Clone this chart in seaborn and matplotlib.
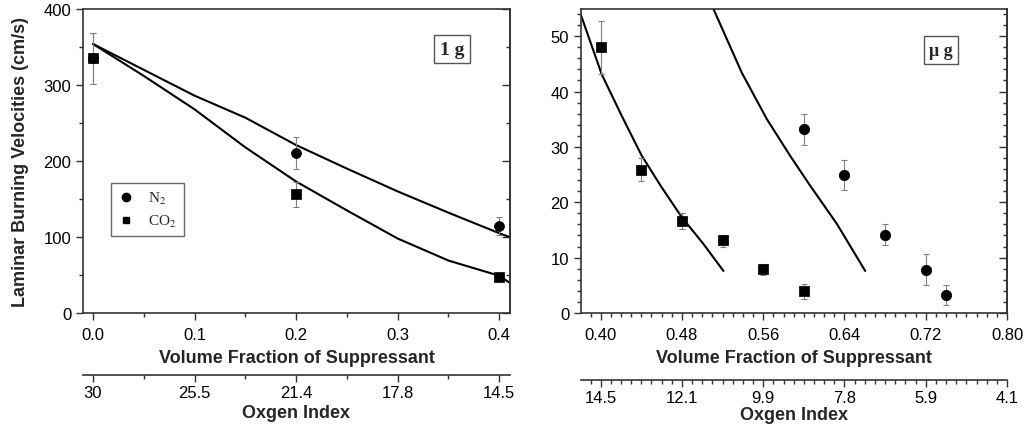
import numpy as np
import pandas as pd
import matplotlib
matplotlib.use("Agg")
import matplotlib.pyplot as plt
from matplotlib.ticker import MultipleLocator
from matplotlib.lines import Line2D
import seaborn as sns

# ---- 1 g data ----
g1_x = [0.0, 0.2, 0.4]
g1_n2 = [335, 210, 115]
g1_n2_lo = [301, 189, 103]
g1_n2_hi = [368, 231, 126]
g1_co2 = [335, 157, 47]
g1_co2_lo = [301, 140, 44]
g1_co2_hi = [368, 173, 51]

g1_calc_x = [0.0, 0.05, 0.1, 0.15, 0.2, 0.25, 0.3, 0.35, 0.4, 0.41]
g1_calc_n2 = [354, 320, 286, 257, 221, 190, 160, 132, 105, 100]
g1_calc_co2 = [354, 312, 268, 218, 173, 135, 98, 69, 49, 40]

# ---- micro g data ----
ug_co2_x = [0.40, 0.44, 0.48, 0.52, 0.56, 0.60]
ug_co2 = [48.0, 25.9, 16.6, 13.1, 7.9, 3.9]
ug_co2_lo = [43.1, 23.8, 15.2, 11.9, 6.9, 2.5]
ug_co2_hi = [52.7, 28.0, 18.0, 14.0, 8.9, 5.2]
ug_n2_x = [0.60, 0.64, 0.68, 0.72, 0.74]
ug_n2 = [33.2, 25.0, 14.1, 7.8, 3.2]
ug_n2_lo = [30.4, 22.3, 12.2, 5.0, 1.4]
ug_n2_hi = [35.9, 27.6, 16.0, 10.6, 5.1]

ug_calc_co2_x = [0.3796, 0.401, 0.4207, 0.4404, 0.460, 0.4798, 0.501, 0.5208]
ug_calc_co2 = [54.3, 43.1, 35.6, 28.4, 22.7, 17.3, 12.5, 7.6]
ug_calc_n2_x = [0.511, 0.5389, 0.5636, 0.5865, 0.6062, 0.6325, 0.6604]
ug_calc_n2 = [54.9, 43.4, 35.0, 28.4, 23.0, 16.1, 7.6]

# secondary axis (oxygen index)
g1_oi_ticks = [0.0, 0.1, 0.2, 0.3, 0.4]
g1_oi_labels = ['30', '25.5', '21.4', '17.8', '14.5']
ug_oi_ticks = [0.40, 0.48, 0.56, 0.64, 0.72, 0.80]
ug_oi_labels = ['14.5', '12.1', '9.9', '7.8', '5.9', '4.1']

sns.set_theme(style="ticks")
plt.rcParams['font.family'] = ['Liberation Sans', 'DejaVu Sans']
plt.rcParams['mathtext.fontset'] = 'stix'
plt.rcParams['axes.edgecolor'] = '#333333'
plt.rcParams['axes.linewidth'] = 1.2
plt.rcParams['xtick.color'] = '#333333'
plt.rcParams['ytick.color'] = '#333333'
plt.rcParams['xtick.labelcolor'] = 'black'
plt.rcParams['ytick.labelcolor'] = 'black'

fig = plt.figure(figsize=(10.23, 4.27), dpi=100)
ax1 = fig.add_axes([83 / 1023, 113 / 427, 427 / 1023, 304 / 427])
ax2 = fig.add_axes([581 / 1023, 113 / 427, 426 / 1023, 304 / 427])

ident = (lambda v: v, lambda v: v)
tick_fs = 12
lab_fs = 13
ecol = '#808080'


def style_axis(ax, xmaj, xmin, ymaj, ymin):
    ax.xaxis.set_major_locator(MultipleLocator(xmaj))
    ax.xaxis.set_minor_locator(MultipleLocator(xmin))
    ax.yaxis.set_major_locator(MultipleLocator(ymaj))
    ax.yaxis.set_minor_locator(MultipleLocator(ymin))
    ax.tick_params(which='major', direction='out', length=5, width=1, labelsize=tick_fs)
    ax.tick_params(which='minor', direction='out', length=3, width=1)
    ax.tick_params(axis='x', pad=5)
    for sp in ax.spines.values():
        sp.set_visible(True)
    # inward ticks on the right spine
    sy = ax.secondary_yaxis('right', functions=ident)
    sy.yaxis.set_major_locator(MultipleLocator(ymaj))
    sy.yaxis.set_minor_locator(MultipleLocator(ymin))
    sy.tick_params(which='major', direction='in', length=6, width=1, labelright=False)
    sy.tick_params(which='minor', direction='in', length=3, width=1, labelright=False)


# ---------- left panel (1 g) ----------
ax = ax1
sns.lineplot(x=g1_calc_x, y=g1_calc_n2, sort=False, color='black', lw=1.5, ax=ax)
sns.lineplot(x=g1_calc_x, y=g1_calc_co2, sort=False, color='black', lw=1.5, ax=ax)
ax.errorbar(g1_x, g1_n2, yerr=[np.subtract(g1_n2, g1_n2_lo), np.subtract(g1_n2_hi, g1_n2)],
            fmt='none', ecolor=ecol, elinewidth=0.8, capsize=2, capthick=0.8)
ax.errorbar(g1_x, g1_co2, yerr=[np.subtract(g1_co2, g1_co2_lo), np.subtract(g1_co2_hi, g1_co2)],
            fmt='none', ecolor=ecol, elinewidth=0.8, capsize=2, capthick=0.8)
sns.scatterplot(x=g1_x, y=g1_n2, marker='o', color='black', s=50, edgecolor='black', ax=ax, zorder=5)
sns.scatterplot(x=g1_x, y=g1_co2, marker='s', color='black', s=42, edgecolor='black', ax=ax, zorder=5)
ax.set_xlim(-0.0098, 0.4106)
ax.set_ylim(0, 400)
style_axis(ax, 0.1, 0.05, 100, 50)
ax.set_xlabel('Volume Fraction of Suppressant', fontsize=lab_fs, fontweight='bold', labelpad=5)
ax.set_ylabel('Laminar Burning Velocities (cm/s)', fontsize=lab_fs, fontweight='bold', labelpad=10)

handles = [Line2D([], [], ls='none', marker='o', color='black', ms=6),
           Line2D([], [], ls='none', marker='s', color='black', ms=5)]
leg = ax.legend(handles, ['N$_2$', 'CO$_2$'], loc='lower left', bbox_to_anchor=(0.0656, 0.253),
                borderaxespad=0, frameon=True, fancybox=False, edgecolor='#444444',
                prop={'family': 'Liberation Serif', 'size': 11}, handlelength=1.0,
                handletextpad=1.0, borderpad=0.45, labelspacing=0.45)
leg.get_frame().set_linewidth(1.0)
ax.text(0.864, 0.868, '1 g', transform=ax.transAxes, ha='center', va='center',
        fontfamily='Liberation Serif', fontweight='bold', fontsize=14,
        bbox=dict(boxstyle='square,pad=0.3', fc='white', ec='#555555', lw=1.0))

sx = ax.secondary_xaxis(-0.204, functions=ident)
sx.set_xticks(g1_oi_ticks, g1_oi_labels)
sx.xaxis.set_minor_locator(MultipleLocator(0.05))
sx.tick_params(which='major', direction='out', length=5, width=1, labelsize=tick_fs, pad=2)
sx.tick_params(which='minor', direction='out', length=3, width=1)
sx.set_xlabel('Oxgen Index', fontsize=lab_fs, fontweight='bold', labelpad=3)

# ---------- right panel (micro g) ----------
ax = ax2
sns.lineplot(x=ug_calc_co2_x, y=ug_calc_co2, sort=False, color='black', lw=1.5, ax=ax)
sns.lineplot(x=ug_calc_n2_x, y=ug_calc_n2, sort=False, color='black', lw=1.5, ax=ax)
ax.errorbar(ug_co2_x, ug_co2, yerr=[np.subtract(ug_co2, ug_co2_lo), np.subtract(ug_co2_hi, ug_co2)],
            fmt='none', ecolor=ecol, elinewidth=0.8, capsize=2, capthick=0.8)
ax.errorbar(ug_n2_x, ug_n2, yerr=[np.subtract(ug_n2, ug_n2_lo), np.subtract(ug_n2_hi, ug_n2)],
            fmt='none', ecolor=ecol, elinewidth=0.8, capsize=2, capthick=0.8)
sns.scatterplot(x=ug_n2_x, y=ug_n2, marker='o', color='black', s=55, edgecolor='black', ax=ax, zorder=5)
sns.scatterplot(x=ug_co2_x, y=ug_co2, marker='s', color='black', s=45, edgecolor='black', ax=ax, zorder=5)
ax.set_xlim(0.3806, 0.80)
ax.set_ylim(0, 54.9)
style_axis(ax, 0.08, 0.01, 10, 2)
ax.set_xticks(ug_oi_ticks, ['%.2f' % t for t in ug_oi_ticks])
ax.set_xlabel('Volume Fraction of Suppressant', fontsize=lab_fs, fontweight='bold', labelpad=5)
ax.text(0.845, 0.865, 'μ g', transform=ax.transAxes, ha='center', va='center',
        fontfamily='Liberation Serif', fontweight='bold', fontsize=13,
        bbox=dict(boxstyle='square,pad=0.3', fc='white', ec='#555555', lw=1.0))

sx2 = ax.secondary_xaxis(-0.22, functions=ident)
sx2.set_xticks(ug_oi_ticks, ug_oi_labels)
sx2.xaxis.set_minor_locator(MultipleLocator(0.01))
sx2.tick_params(which='major', direction='out', length=5, width=1, labelsize=tick_fs, pad=2)
sx2.tick_params(which='minor', direction='out', length=3, width=1)
sx2.set_xlabel('Oxgen Index', fontsize=lab_fs, fontweight='bold', labelpad=1)

fig.savefig('out.png', dpi=100, facecolor='white')
